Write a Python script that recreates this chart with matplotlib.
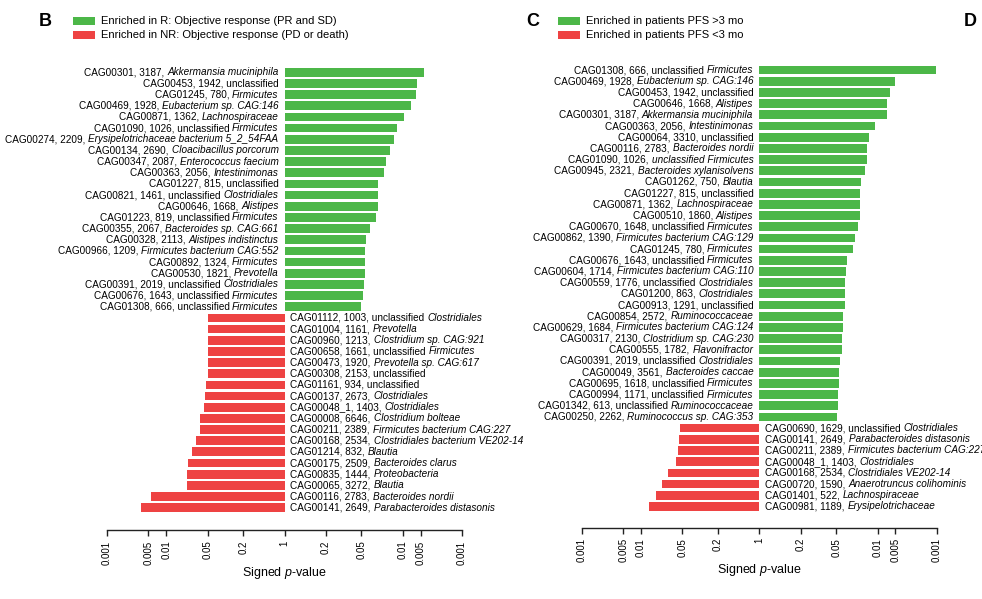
import numpy as np
import matplotlib
matplotlib.use("Agg")
from matplotlib import pyplot as plt
from matplotlib.transforms import offset_copy
from matplotlib.patches import Rectangle

plt.rcParams['font.family'] = ['Liberation Sans', 'DejaVu Sans']
plt.rcParams['mathtext.fontset'] = 'custom'
plt.rcParams['mathtext.rm'] = 'Liberation Sans'
plt.rcParams['mathtext.it'] = 'Liberation Sans:italic'

# ----------------------------------------------------------------------------
# Data: label "plain part|italic part", value = signed -log10(p)
# positive -> enriched in first group (green), negative -> second group (red)
# ----------------------------------------------------------------------------
b_labels = [
    "CAG00301, 3187, |Akkermansia muciniphila",
    "CAG00453, 1942, unclassified|",
    "CAG01245, 780, |Firmicutes",
    "CAG00469, 1928, |Eubacterium sp. CAG:146",
    "CAG00871, 1362, |Lachnospiraceae",
    "CAG01090, 1026, unclassified |Firmicutes",
    "CAG00274, 2209, |Erysipelotrichaceae bacterium 5_2_54FAA",
    "CAG00134, 2690, |Cloacibacillus porcorum",
    "CAG00347, 2087, |Enterococcus faecium",
    "CAG00363, 2056, |Intestinimonas",
    "CAG01227, 815, unclassified|",
    "CAG00821, 1461, unclassified |Clostridiales",
    "CAG00646, 1668, |Alistipes",
    "CAG01223, 819, unclassified |Firmicutes",
    "CAG00355, 2067, |Bacteroides sp. CAG:661",
    "CAG00328, 2113, |Alistipes indistinctus",
    "CAG00966, 1209, |Firmicutes bacterium CAG:552",
    "CAG00892, 1324, |Firmicutes",
    "CAG00530, 1821, |Prevotella",
    "CAG00391, 2019, unclassified |Clostridiales",
    "CAG00676, 1643, unclassified |Firmicutes",
    "CAG01308, 666, unclassified |Firmicutes",
    "CAG01112, 1003, unclassified |Clostridiales",
    "CAG01004, 1161, |Prevotella",
    "CAG00960, 1213, |Clostridium sp. CAG:921",
    "CAG00658, 1661, unclassified |Firmicutes",
    "CAG00473, 1920, |Prevotella sp. CAG:617",
    "CAG00308, 2153, unclassified|",
    "CAG01161, 934, unclassified|",
    "CAG00137, 2673, |Clostridiales",
    "CAG00048_1, 1403, |Clostridiales",
    "CAG00008, 6646, |Clostridium bolteae",
    "CAG00211, 2389, |Firmicutes bacterium CAG:227",
    "CAG00168, 2534, |Clostridiales bacterium VE202-14",
    "CAG01214, 832, |Blautia",
    "CAG00175, 2509, |Bacteroides clarus",
    "CAG00835, 1444, |Proteobacteria",
    "CAG00065, 3272, |Blautia",
    "CAG00116, 2783, |Bacteroides nordii",
    "CAG00141, 2649, |Parabacteroides distasonis",
]
b_values = [2.35, 2.24, 2.23, 2.13, 2.02, 1.90, 1.85, 1.78, 1.72, 1.68,
            1.58, 1.58, 1.58, 1.55, 1.44, 1.37, 1.36, 1.36, 1.36, 1.34,
            1.32, 1.30,
            -1.30, -1.30, -1.30, -1.30, -1.30, -1.30, -1.32, -1.34, -1.36, -1.42,
            -1.43, -1.50, -1.56, -1.63, -1.64, -1.64, -2.26, -2.42]

c_labels = [
    "CAG01308, 666, unclassified |Firmicutes",
    "CAG00469, 1928, |Eubacterium sp. CAG:146",
    "CAG00453, 1942, unclassified|",
    "CAG00646, 1668, |Alistipes",
    "CAG00301, 3187, |Akkermansia muciniphila",
    "CAG00363, 2056, |Intestinimonas",
    "CAG00064, 3310, unclassified|",
    "CAG00116, 2783, |Bacteroides nordii",
    "CAG01090, 1026, |unclassified Firmicutes",
    "CAG00945, 2321, |Bacteroides xylanisolvens",
    "CAG01262, 750, |Blautia",
    "CAG01227, 815, unclassified|",
    "CAG00871, 1362, |Lachnospiraceae",
    "CAG00510, 1860, |Alistipes",
    "CAG00670, 1648, unclassified |Firmicutes",
    "CAG00862, 1390, |Firmicutes bacterium CAG:129",
    "CAG01245, 780, |Firmicutes",
    "CAG00676, 1643, unclassified |Firmicutes",
    "CAG00604, 1714, |Firmicutes bacterium CAG:110",
    "CAG00559, 1776, unclassified |Clostridiales",
    "CAG01200, 863, |Clostridiales",
    "CAG00913, 1291, unclassified|",
    "CAG00854, 2572, |Ruminococcaceae",
    "CAG00629, 1684, |Firmicutes bacterium CAG:124",
    "CAG00317, 2130, |Clostridium sp. CAG:230",
    "CAG00555, 1782, |Flavonifractor",
    "CAG00391, 2019, unclassified |Clostridiales",
    "CAG00049, 3561, |Bacteroides caccae",
    "CAG00695, 1618, unclassified |Firmicutes",
    "CAG00994, 1171, unclassified |Firmicutes",
    "CAG01342, 613, unclassified |Ruminococcaceae",
    "CAG00250, 2262, |Ruminococcus sp. CAG:353",
    "CAG00690, 1629, unclassified |Clostridiales",
    "CAG00141, 2649, |Parabacteroides distasonis",
    "CAG00211, 2389, |Firmicutes bacterium CAG:227",
    "CAG00048_1, 1403, |Clostridiales",
    "CAG00168, 2534, |Clostridiales VE202-14",
    "CAG00720, 1590, |Anaerotruncus colihominis",
    "CAG01401, 522, |Lachnospiraceae",
    "CAG00981, 1189, |Erysipelotrichaceae",
]
c_values = [2.99, 2.29, 2.21, 2.15, 2.15, 1.95, 1.85, 1.82, 1.82, 1.79,
            1.72, 1.70, 1.70, 1.70, 1.67, 1.62, 1.59, 1.48, 1.46, 1.45,
            1.45, 1.45, 1.42, 1.41, 1.40, 1.39, 1.36, 1.35, 1.35, 1.33,
            1.33, 1.31,
            -1.34, -1.35, -1.38, -1.41, -1.55, -1.65, -1.74, -1.86]

tick_pvalues = [0.001, 0.005, 0.01, 0.05, 0.2, 1, 0.2, 0.05, 0.01, 0.005, 0.001]
tick_signs = [-1, -1, -1, -1, -1, 1, 1, 1, 1, 1, 1]

b_legend = ["Enriched in R: Objective response (PR and SD)",
            "Enriched in NR: Objective response (PD or death)"]
c_legend = ["Enriched in patients PFS >3 mo",
            "Enriched in patients PFS <3 mo"]

GREEN = '#4cb748'
RED = '#ee4343'
LABEL_SIZE = 7.2
W, H = 982, 599

fig = plt.figure(figsize=(W / 100, H / 100), dpi=100)
renderer = fig.canvas.get_renderer()


def px(x0, y0, x1, y1):
    # pixel box (top-left origin) -> figure fraction rect
    return [x0 / W, 1 - y1 / H, (x1 - x0) / W, (y1 - y0) / H]


def drawLabel(ax, y, label, positive):
    plain, italic = label.split("|")
    if positive:
        # right aligned, left of the zero line
        xoff = -6
        if italic:
            t = ax.text(0, y, italic, style='italic', ha='right', va='center', fontsize=LABEL_SIZE,
                        transform=offset_copy(ax.transData, fig, x=xoff, y=0, units='dots'))
            xoff -= t.get_window_extent(renderer).width
        if plain:
            ax.text(0, y, plain, ha='right', va='center', fontsize=LABEL_SIZE,
                    transform=offset_copy(ax.transData, fig, x=xoff, y=0, units='dots'))
    else:
        xoff = 6
        if plain:
            t = ax.text(0, y, plain, ha='left', va='center', fontsize=LABEL_SIZE,
                        transform=offset_copy(ax.transData, fig, x=xoff, y=0, units='dots'))
            xoff += t.get_window_extent(renderer).width
        if italic:
            ax.text(0, y, italic, style='italic', ha='left', va='center', fontsize=LABEL_SIZE,
                    transform=offset_copy(ax.transData, fig, x=xoff, y=0, units='dots'))


def drawPanel(rect, labels, values, ylim):
    ax = fig.add_axes(rect)
    rows = np.arange(len(values))
    vals = np.array(values)
    colors = [GREEN if v > 0 else RED for v in vals]
    ax.barh(rows, vals, height=0.78, color=colors, edgecolor='none')
    for r, lab, v in zip(rows, labels, vals):
        drawLabel(ax, r, lab, v > 0)
    ax.set_xlim(-3, 3)
    ax.set_ylim(*ylim)
    ticks = [s * -np.log10(p) for s, p in zip(tick_signs, tick_pvalues)]
    ax.set_xticks(ticks)
    ax.set_xticklabels([f"{p:g}" for p in tick_pvalues], rotation=90, fontsize=7)
    ax.tick_params(axis='x', length=4.5, width=1.0, pad=3, color='#222222')
    ax.set_yticks([])
    for s in ['left', 'top', 'right']:
        ax.spines[s].set_visible(False)
    ax.spines['bottom'].set_linewidth(1.0)
    ax.spines['bottom'].set_color('#222222')
    ax.set_xlabel("Signed $p$-value", fontsize=9, labelpad=0)
    ax.patch.set_alpha(0)
    return ax


axB = drawPanel(px(107, 60, 462, 530), b_labels, b_values, (41.0, -1.1))
axC = drawPanel(px(581.8, 60, 936.8, 527.7), c_labels, c_values, (40.9, -0.9))


def drawLegend(x0, names):
    for i, (name, col) in enumerate(zip(names, [GREEN, RED])):
        yc = 21 + i * 14
        fig.patches.append(Rectangle((x0 / W, 1 - (yc + 4) / H), 22.5 / W, 8 / H,
                                     transform=fig.transFigure, color=col, lw=0))
        fig.text((x0 + 28) / W, 1 - yc / H, name, fontsize=8, va='center', ha='left')


drawLegend(72.7, b_legend)
drawLegend(557.7, c_legend)

fig.text(45 / W, 1 - 21 / H, "B", fontsize=13, fontweight='bold', ha='center', va='center')
fig.text(533 / W, 1 - 21 / H, "C", fontsize=13, fontweight='bold', ha='center', va='center')
fig.text(970 / W, 1 - 21 / H, "D", fontsize=13, fontweight='bold', ha='center', va='center')

fig.savefig("out.png", dpi=100)
